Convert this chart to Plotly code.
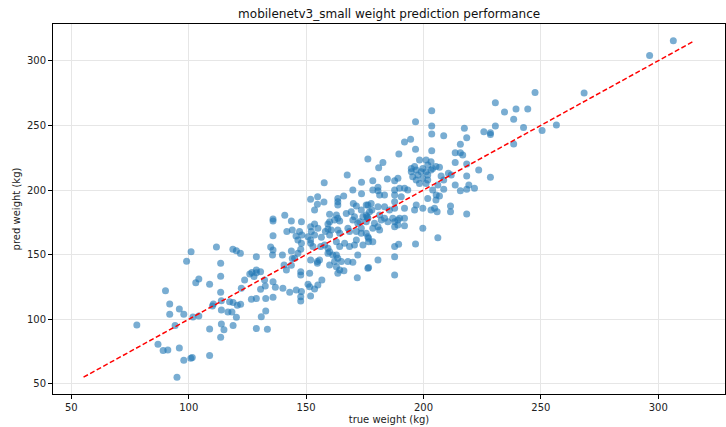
import plotly.graph_objects as go

# (true weight, predicted weight) in kg
true_w = [
    101.0, 111.8, 99.1, 104.3, 103.0, 108.9, 90.1, 91.9, 91.9, 96.0, 97.9, 101.8, 104.3, 110.1, 110.5,
    77.9, 94.2, 86.9, 89.1, 91.1, 96.0, 97.9, 100.9, 101.5, 108.9, 95.0, 108.9,
    135.9, 135.9, 140.9, 143.7, 141.8, 144.1, 145.7, 135.9, 134.9, 135.9, 139.9, 143.7, 144.1, 140.6,
    141.6, 143.7, 135.7, 118.8, 120.3, 122.0, 128.8, 113.6, 113.6, 126.0, 126.9, 128.8, 128.8, 130.6,
    127.8, 123.8, 122.4, 132.3, 135.9, 136.9, 140.1, 143.0, 132.6, 130.6, 113.6, 113.9, 117.4, 118.9,
    120.7, 122.1, 116.7, 118.4, 120.3, 113.9, 126.7, 128.8, 132.8, 135.9, 132.8, 130.9, 113.9, 115.0,
    118.9, 113.6, 128.8, 133.5,
    176.3, 167.5, 157.7, 173.6, 169.9, 173.6, 154.9, 151.9, 157.6, 163.5, 163.5, 163.5, 166.0, 154.8,
    153.6, 170.1, 171.4, 175.6, 173.5, 160.0, 162.9, 163.5, 162.1, 164.3, 167.1, 169.2, 170.6, 169.9,
    172.8, 174.2, 175.6, 148.0, 151.9, 153.6, 155.0, 152.2, 159.3, 160.0, 159.3, 160.7, 158.2, 160.0,
    163.5, 164.3, 167.8, 168.5, 172.0, 173.5, 171.4, 173.5, 175.6, 176.3, 147.2, 148.2, 150.8, 153.6,
    156.5, 175.6, 176.3,
    146.5, 148.0, 151.9, 151.9, 152.9, 147.7, 146.5, 156.2, 157.9, 159.3, 160.0, 162.9, 164.3, 166.4,
    168.5, 170.6, 171.4, 174.2, 172.0, 159.3, 161.4, 162.9, 163.5, 145.1, 151.9, 154.8, 155.7, 154.8,
    160.0, 162.1, 162.9, 165.0, 167.8, 169.9, 163.5, 164.3, 166.1, 147.7, 147.7, 151.5, 171.8, 176.3,
    156.7, 155.0, 153.6, 150.8, 151.5, 145.8, 148.0, 147.7, 147.7, 151.9,
    203.5, 196.6, 203.5, 203.5, 191.9, 194.5, 196.6, 203.5, 189.5, 182.7, 180.9, 198.3, 201.1, 203.2,
    201.8, 194.8, 194.8, 196.2, 196.9, 197.6, 195.4, 199.7, 199.0, 201.1, 201.8, 203.2, 203.9, 205.3,
    196.9, 199.7, 201.8, 198.3, 201.1, 184.6, 187.7, 189.1, 178.4, 180.6, 180.6, 181.3, 178.4, 187.7,
    189.8, 191.9, 193.3, 183.4, 187.7, 190.5, 203.9, 206.1, 205.4,
    187.7, 201.8, 205.3, 176.3, 177.7, 180.6, 177.0, 178.0, 176.0, 183.4, 185.5, 187.7, 191.9, 196.2,
    196.9, 199.7, 203.2, 204.7, 181.3, 182.0, 183.4, 184.8, 179.1, 180.6, 181.3, 178.4, 186.9, 187.7,
    189.1, 189.8, 191.9, 187.7, 189.1, 191.9, 199.7, 176.6, 176.6, 178.4, 206.1, 187.7, 189.4, 196.6,
    180.6, 187.7, 176.6, 187.7,
    230.6, 239.4, 234.5, 238.4, 230.6, 217.4, 225.7, 228.5, 228.5, 218.4, 208.6, 238.4, 215.7, 213.5,
    215.7, 216.7, 213.5, 218.4, 223.5, 206.8, 210.6, 211.8, 208.6, 207.5, 218.4, 228.5, 213.5, 219.3,
    218.4, 215.7, 221.7, 208.6, 206.8, 205.8, 211.5, 211.5, 218.4,
    306.4, 296.3, 268.4, 247.5, 244.4, 242.6, 250.5, 256.6,
]
pred_w = [
    152.3, 155.9, 144.9, 131.2, 128.3, 127.1, 122.1, 111.9, 103.9, 108.0, 103.9, 101.8, 102.6, 110.3, 111.9,
    95.6, 95.1, 80.7, 75.8, 76.3, 77.8, 68.3, 69.8, 70.5, 71.9, 55.2, 92.5,
    177.6, 176.0, 180.4, 176.0, 167.8, 169.1, 164.4, 164.7, 155.9, 153.6, 149.7, 152.8, 147.1, 142.0,
    138.1, 141.7, 149.7, 154.1, 153.0, 151.0, 148.4, 143.3, 133.2, 135.1, 136.1, 138.1, 136.0, 136.8,
    133.0, 130.4, 124.0, 130.4, 129.1, 124.8, 124.0, 120.9, 125.8, 123.2, 120.9, 114.4, 113.6, 112.9,
    110.8, 111.6, 105.7, 105.7, 101.6, 107.2, 115.5, 116.0, 116.0, 117.0, 106.4, 102.0, 96.4, 91.8,
    95.1, 86.1, 92.8, 92.3,
    224.0, 211.6, 205.7, 205.9, 200.0, 197.1, 194.8, 192.8, 190.7, 193.5, 191.0, 188.4, 195.4, 188.9,
    184.5, 189.6, 187.6, 188.4, 184.5, 181.2, 180.7, 178.1, 176.8, 176.0, 181.9, 183.2, 179.4, 176.8,
    175.5, 179.4, 180.7, 175.5, 171.6, 173.7, 170.4, 167.8, 173.7, 175.5, 169.8, 169.1, 167.8, 165.2,
    169.1, 166.5, 170.4, 167.8, 174.2, 170.4, 167.8, 166.5, 175.5, 178.1, 167.8, 165.2, 163.9, 165.2,
    163.4, 166.5, 163.9,
    161.3, 158.8, 161.3, 158.8, 156.2, 154.1, 151.0, 156.2, 157.5, 154.9, 152.3, 160.0, 156.2, 158.8,
    156.2, 157.5, 161.3, 157.5, 149.7, 151.0, 149.7, 149.7, 147.2, 147.2, 145.9, 144.6, 145.9, 143.3,
    142.0, 144.6, 140.7, 144.6, 144.6, 144.1, 135.6, 138.1, 137.6, 136.8, 134.3, 135.6, 132.2, 139.5,
    130.4, 126.5, 123.5, 127.1, 125.2, 122.7, 121.4, 117.5, 114.2, 118.0,
    261.3, 252.8, 249.5, 243.3, 237.1, 239.2, 231.5, 230.4, 227.8, 221.2, 217.3, 223.2, 223.2, 221.9,
    219.3, 216.7, 214.2, 218.1, 215.5, 211.6, 210.3, 216.7, 214.2, 214.2, 211.6, 215.5, 216.7, 218.1,
    207.7, 209.0, 207.7, 205.1, 205.1, 208.5, 207.2, 209.0, 207.2, 202.1, 199.5, 196.1, 200.0, 200.0,
    201.3, 201.3, 200.0, 196.1, 196.1, 194.8, 200.0, 203.9, 196.1,
    191.0, 193.5, 192.3, 188.4, 189.6, 187.1, 183.2, 184.5, 179.4, 187.1, 184.5, 185.9, 185.9, 184.5,
    188.4, 185.9, 184.5, 185.9, 180.7, 176.8, 178.1, 175.5, 174.2, 171.6, 169.1, 170.4, 178.1, 175.5,
    176.8, 178.1, 178.1, 171.6, 172.9, 172.4, 170.4, 162.7, 160.0, 160.0, 163.1, 156.2, 158.0, 158.2,
    145.9, 148.4, 140.0, 134.3,
    267.5, 262.6, 260.3, 254.7, 249.5, 247.7, 245.1, 244.3, 243.0, 240.4, 242.0, 235.6, 235.3, 228.8,
    228.8, 227.1, 221.2, 220.1, 215.5, 217.6, 212.9, 211.6, 207.7, 210.8, 210.8, 209.8, 203.9, 203.9,
    200.5, 199.5, 201.3, 200.5, 195.4, 183.2, 187.6, 183.2, 181.4,
    315.4, 304.1, 275.0, 275.5, 262.6, 248.4, 246.1, 250.3,
]

title_text = "mobilenetv3_small weight prediction performance"
x_label = "true weight (kg)"
y_label = "pred weight (kg)"
tick_vals = [50, 100, 150, 200, 250, 300]

lo = min(min(true_w), min(pred_w))
hi = max(max(true_w), max(pred_w))
pad = 0.05 * (hi - lo)
rng = [lo - pad, hi + pad]

fig = go.Figure()
fig.add_trace(go.Scatter(
    x=true_w, y=pred_w, mode="markers",
    marker=dict(size=7, color="rgba(31,119,180,0.6)", line=dict(width=0)),
    showlegend=False,
))
fig.add_trace(go.Scatter(
    x=[lo, hi], y=[lo, hi], mode="lines",
    line=dict(color="red", width=1.5, dash="5px,2.5px"),
    showlegend=False,
))

axis_common = dict(
    showline=True, mirror=True, linecolor="black", linewidth=1,
    ticks="outside", ticklen=4, tickcolor="black", tickwidth=1,
    showgrid=True, gridcolor="#e6e6e6", gridwidth=0.8,
    zeroline=False, tickvals=tick_vals,
    tickfont=dict(family="DejaVu Sans", size=10, color="#222"),
    range=rng,
)

fig.update_layout(
    width=726, height=427,
    margin=dict(l=53, r=1, t=24, b=33),
    paper_bgcolor="white", plot_bgcolor="white",
    title=dict(text=title_text, x=0.536, xanchor="center", y=1 - 14 / 427, yanchor="middle",
               yref="container", font=dict(family="DejaVu Sans", size=12, color="#111")),
    xaxis=dict(**axis_common, title=dict(text=x_label, standoff=3,
               font=dict(family="DejaVu Sans", size=10, color="#222"))),
    yaxis=dict(**axis_common, title=dict(text=y_label, standoff=4,
               font=dict(family="DejaVu Sans", size=10, color="#222"))),
)

fig.write_html("out.html")
